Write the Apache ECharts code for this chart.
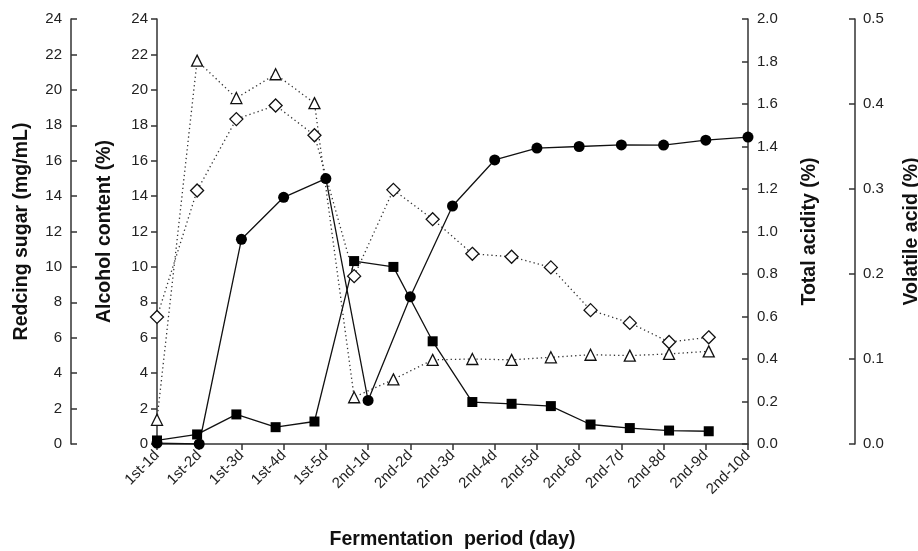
<!DOCTYPE html>
<html>
<head>
<meta charset="utf-8">
<script src="https://cdn.jsdelivr.net/npm/echarts@6/dist/echarts.min.js"></script>
<style>
  html, body { margin: 0; padding: 0; background: #fff; }
  #box { width: 918px; height: 551px; }
</style>
</head>
<body>
<div id="box"></div>
<script>
// 发酵时间（横轴）
var periods = ['1st-1d', '1st-2d', '1st-3d', '1st-4d', '1st-5d', '2nd-1d', '2nd-2d', '2nd-3d',
    '2nd-4d', '2nd-5d', '2nd-6d', '2nd-7d', '2nd-8d', '2nd-9d', '2nd-10d'];
// 方块/三角/菱形在图上的横向位置（以刻度为单位，读自原图）
var xShifted = [0, 0.95, 1.88, 2.81, 3.73, 4.67, 5.6, 6.53, 7.47, 8.4, 9.33, 10.27, 11.2, 12.13, 13.07];

var sugar = [0.2, 0.54, 1.67, 0.95, 1.27, 10.33, 10.0, 5.8, 2.37, 2.27, 2.14, 1.1, 0.9, 0.76, 0.72];
var alcohol = [0.05, 0, 11.56, 13.93, 14.99, 2.46, 8.31, 13.44, 16.04, 16.71, 16.8, 16.89, 16.88, 17.16, 17.33];
var totalAcid = [0.598, 1.193, 1.529, 1.593, 1.453, 0.79, 1.196, 1.058, 0.895, 0.881, 0.831, 0.63, 0.57, 0.48, 0.502];
var volatileAcid = [0.0285, 0.451, 0.407, 0.435, 0.401, 0.055, 0.076, 0.099, 0.1, 0.099, 0.102, 0.105, 0.104, 0.106, 0.109];

function onShifted(arr) {
    return arr.map(function (v, i) { return [xShifted[i], v]; });
}
function onTicks(arr) {
    return arr.map(function (v, i) { return [i, v]; });
}

var font = 'Liberation Sans, Arial, sans-serif';
var axisColor = '#333';
var labelStyle = { color: '#222', fontSize: 15, fontFamily: font };
var nameStyle = { color: '#111', fontSize: 19.5, fontWeight: 'bold', fontFamily: font };

function yAxisOf(cfg) {
    return {
        type: 'value', position: cfg.position, offset: cfg.offset,
        min: cfg.min, max: cfg.max, interval: cfg.interval,
        name: cfg.name, nameLocation: 'middle', nameGap: cfg.nameGap, nameRotate: 90,
        nameTextStyle: nameStyle,
        axisLine: { show: true, onZero: false, lineStyle: { color: axisColor, width: 1.5 } },
        axisTick: { show: true, inside: cfg.inside, length: 6, lineStyle: { color: axisColor, width: 1.5 } },
        splitLine: { show: false },
        axisLabel: Object.assign({}, labelStyle, { margin: cfg.margin, formatter: cfg.formatter })
    };
}
function oneDecimal(v) { return v.toFixed(1); }

var myChart = echarts.init(document.getElementById('box'));
var option = {
    animation: false,
    backgroundColor: '#fff',
    grid: { left: 157, right: 170, top: 19, bottom: 107, containLabel: false, outerBoundsMode: 'none' },
    xAxis: {
        type: 'value',
        min: 0,
        max: 14,
        interval: 1,
        name: 'Fermentation  period (day)',
        nameLocation: 'middle',
        nameGap: 86,
        nameTextStyle: nameStyle,
        axisLine: { onZero: false, lineStyle: { color: axisColor, width: 1.5 } },
        axisTick: { length: 6, lineStyle: { color: axisColor, width: 1.5 } },
        splitLine: { show: false },
        axisLabel: Object.assign({}, labelStyle, {
            rotate: 45,
            margin: 9,
            formatter: function (v) { return periods[v]; }
        })
    },
    yAxis: [
        yAxisOf({ position: 'left', offset: 86, min: 0, max: 24, interval: 2, inside: true, margin: 9,
            name: 'Redcing sugar (mg/mL)', nameGap: 39 }),
        yAxisOf({ position: 'left', offset: 0, min: 0, max: 24, interval: 2, inside: false, margin: 9,
            name: 'Alcohol content (%)', nameGap: 42 }),
        yAxisOf({ position: 'right', offset: 0, min: 0, max: 2, interval: 0.2, inside: true, margin: 9,
            name: 'Total acidity (%)', nameGap: 52, formatter: oneDecimal }),
        yAxisOf({ position: 'right', offset: 107, min: 0, max: 0.5, interval: 0.1, inside: true, margin: 8,
            name: 'Volatile acid (%)', nameGap: 47, formatter: oneDecimal })
    ],
    series: [
        {
            name: 'Volatile acid', type: 'line', yAxisIndex: 3,
            data: onShifted(volatileAcid),
            symbol: 'triangle', symbolSize: 11,
            itemStyle: { color: '#fff', borderColor: '#111', borderWidth: 1.3 },
            lineStyle: { color: '#333', width: 1.3, type: [1.3, 3] }
        },
        {
            name: 'Total acidity', type: 'line', yAxisIndex: 2,
            data: onShifted(totalAcid),
            symbol: 'diamond', symbolSize: 13,
            itemStyle: { color: '#fff', borderColor: '#111', borderWidth: 1.3 },
            lineStyle: { color: '#333', width: 1.3, type: [1.3, 3] }
        },
        {
            name: 'Redcing sugar', type: 'line', yAxisIndex: 0,
            data: onShifted(sugar),
            symbol: 'rect', symbolSize: 10,
            itemStyle: { color: '#000' },
            lineStyle: { color: '#111', width: 1.3 }
        },
        {
            name: 'Alcohol content', type: 'line', yAxisIndex: 1,
            data: onTicks(alcohol),
            symbol: 'circle', symbolSize: 11,
            itemStyle: { color: '#000' },
            lineStyle: { color: '#111', width: 1.3 }
        }
    ]
};

option && myChart.setOption(option);
</script>
</body>
</html>
